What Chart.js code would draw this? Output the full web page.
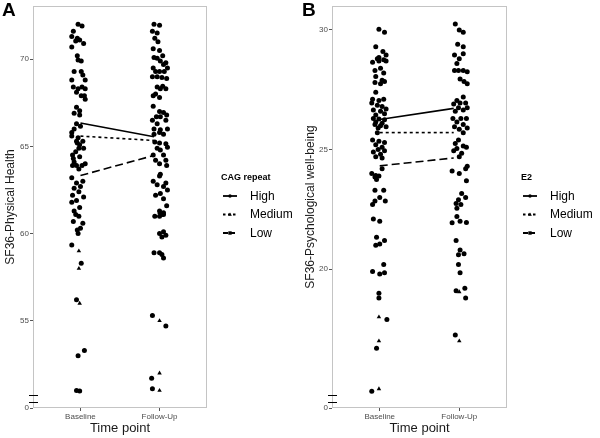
<!DOCTYPE html>
<html>
<head>
<meta charset="utf-8">
<script src="https://cdn.jsdelivr.net/npm/chart.js@4.4.1/dist/chart.umd.min.js"></script>
<style>
  html, body { margin: 0; padding: 0; background: #fff; }
  #wrap { position: relative; width: 600px; height: 438px; }
  canvas { position: absolute; top: 0; }
</style>
</head>
<body>
<div id="wrap">
  <canvas id="chartA" width="300" height="438" style="left:0"></canvas>
  <canvas id="chartB" width="300" height="438" style="left:300px"></canvas>
</div>
<script>
// ── DATA ─────────────────────────────
const timePoints = ["Baseline", "Follow-Up"];
const groupNames = ["High", "Medium", "Low"];

// panel A: [jitter, value]
const aBaseDots = [
  [-0.03,72.0],[0.02,71.9],[-0.09,71.6],[-0.11,71.3],[-0.06,71.05],[-0.01,71.1],[-0.04,71.2],[0.04,70.9],
  [-0.11,70.7],[-0.04,70.2],[-0.03,69.95],[0.01,69.9],[-0.08,69.3],[0.01,69.3],[0.03,69.1],[0.06,68.8],
  [-0.11,68.8],[-0.09,68.4],[-0.03,68.3],[0.02,68.4],[0.06,68.3],[-0.05,68.1],[0.01,67.9],[0.05,67.9],
  [0.06,67.7],[-0.05,67.25],[-0.01,67.05],[-0.08,66.9],[-0.01,66.8],[-0.05,66.3],[0.0,66.15],[-0.08,66.0],
  [-0.11,65.8],[-0.11,65.6],[-0.03,65.5],[-0.05,65.3],[0.03,65.3],[-0.04,65.2],[-0.01,65.1],[-0.02,64.9],
  [0.04,64.9],[-0.06,64.7],[-0.10,64.5],[-0.01,64.4],[-0.09,64.3],[-0.08,64.1],[0.06,64.0],[-0.05,63.9],
  [-0.10,63.9],[0.02,63.9],[-0.02,63.7],[-0.11,63.2],[-0.05,62.9],[0.03,63.0],[0.0,62.7],[-0.08,62.6],
  [-0.02,62.4],[-0.10,62.2],[0.04,62.1],[-0.11,61.8],[-0.05,61.9],[-0.01,61.5],[-0.08,61.3],[-0.06,61.1],
  [-0.02,61.0],[-0.09,60.7],[0.03,60.6],[-0.04,60.2],[0.0,60.3],[-0.03,60.0],[-0.11,59.35],[0.01,58.3],
  [-0.05,56.2],[-0.03,53.0],[0.05,53.3],[-0.05,51.0],[-0.01,50.98]
];
const aBaseTri = [[-0.02,59.0],[-0.02,58.0],[-0.01,56.0]];
const aFollowDots = [
  [-0.07,72.0],[0.0,71.95],[-0.09,71.6],[-0.03,71.5],[-0.06,71.2],[-0.02,71.0],[-0.08,70.6],[0.0,70.5],
  [-0.07,70.1],[-0.03,70.05],[0.04,70.2],[0.01,69.9],[0.08,69.8],[0.05,69.7],[-0.08,69.5],[0.10,69.5],
  [-0.05,69.3],[0.0,69.3],[0.06,69.3],[-0.09,69.0],[-0.03,69.0],[0.03,68.95],[0.09,68.9],[-0.03,68.4],
  [0.04,68.45],[0.01,68.3],[0.08,68.3],[-0.05,68.0],[-0.08,67.9],[0.0,67.8],[-0.08,67.3],[0.0,67.0],
  [0.05,66.95],[0.09,66.8],[0.01,66.7],[-0.04,66.7],[-0.09,66.5],[0.08,66.5],[-0.03,66.3],[-0.07,66.0],
  [0.01,65.95],[0.10,66.0],[0.0,65.8],[-0.07,65.7],[0.05,65.7],[-0.06,65.25],[0.0,65.2],[0.08,65.15],
  [-0.03,64.9],[0.10,64.95],[0.01,64.8],[-0.08,64.5],[0.05,64.5],[-0.05,64.2],[0.08,64.2],[0.0,64.0],
  [0.09,63.9],[0.01,63.4],[0.0,63.3],[-0.08,63.0],[0.08,62.9],[-0.03,62.8],[0.05,62.7],[0.10,62.5],
  [0.01,62.3],[-0.05,62.2],[0.05,62.0],[0.09,61.6],[0.0,61.3],[0.05,61.2],[0.0,61.0],[0.05,61.1],
  [0.03,61.1],[-0.06,61.0],[0.0,60.0],[0.05,60.1],[0.08,59.9],[0.03,59.8],[-0.07,58.9],[0.0,58.9],
  [0.03,58.8],[0.05,58.6],[-0.09,55.3],[0.08,54.7],[-0.10,51.7],[-0.09,51.1]
];
const aFollowTri = [[0.0,61.2],[0.0,55.0],[0.0,52.0],[0.0,51.0]];
const aLines = { High: [66.34, 65.55], Medium: [65.59, 65.34], Low: [63.33, 64.48] };
const aTicks = [50, 55, 60, 65, 70];
const aTickLabels = ["0", "55", "60", "65", "70"];

// panel B: [jitter, value]
const bBaseDots = [
  [-0.01,30.03],[0.06,29.9],[-0.05,29.3],[0.04,29.1],[0.08,28.95],[-0.01,28.85],[-0.03,28.8],[0.05,28.75],
  [-0.09,28.65],[-0.01,28.7],[0.08,28.7],[-0.06,28.3],[0.01,28.4],[0.05,28.2],[-0.05,28.05],[0.03,27.9],
  [0.06,27.85],[-0.06,27.8],[0.01,27.75],[-0.05,27.4],[-0.09,27.1],[-0.01,27.05],[0.05,27.1],[-0.10,26.95],
  [-0.03,26.85],[0.03,26.8],[0.08,26.7],[-0.08,26.65],[0.01,26.6],[0.06,26.5],[-0.05,26.45],[-0.08,26.3],
  [-0.01,26.28],[0.06,26.25],[-0.05,26.15],[0.03,26.1],[-0.06,26.05],[0.01,26.0],[0.08,25.95],[-0.02,25.9],
  [-0.03,25.7],[-0.09,25.4],[-0.01,25.35],[0.06,25.3],[-0.05,25.2],[0.03,25.1],[-0.02,25.0],[0.06,24.95],
  [-0.08,24.9],[0.01,24.8],[-0.05,24.7],[0.03,24.65],[0.03,24.2],[-0.10,24.0],[-0.05,23.92],[-0.06,23.85],
  [-0.01,23.9],[-0.04,23.75],[-0.06,23.3],[0.05,23.3],[0.0,23.0],[-0.06,22.85],[0.07,22.85],[-0.09,22.7],
  [-0.08,22.1],[0.0,22.0],[-0.04,21.34],[0.06,21.2],[-0.05,21.0],[0.0,21.05],[0.05,20.2],[0.0,19.8],
  [0.06,19.85],[-0.09,19.9],[-0.01,19.0],[-0.01,18.8],[0.09,17.9],[-0.04,16.7],[-0.10,14.9]
];
const bBaseTri = [[-0.01,18.0],[-0.01,17.0],[-0.01,15.0]];
const bFollowDots = [
  [-0.05,30.25],[0.0,30.0],[0.05,29.9],[-0.02,29.4],[0.05,29.3],[-0.06,28.95],[0.05,29.0],[0.0,28.8],
  [-0.03,28.6],[-0.06,28.3],[-0.01,28.3],[0.05,28.3],[0.10,28.25],[0.01,27.95],[0.06,27.85],[0.10,27.75],
  [0.05,27.2],[-0.03,27.05],[0.01,26.95],[-0.07,26.9],[0.08,26.95],[-0.01,26.75],[0.10,26.75],[0.05,26.65],
  [-0.05,26.6],[-0.08,26.3],[0.02,26.3],[0.09,26.3],[-0.03,26.15],[0.05,26.05],[-0.06,25.95],[0.0,25.85],
  [0.10,25.9],[0.05,25.7],[-0.01,25.4],[-0.05,25.25],[0.05,25.15],[-0.03,25.05],[0.09,25.1],[-0.07,24.95],
  [0.03,24.85],[0.0,24.7],[0.10,24.3],[-0.09,24.1],[0.0,24.0],[0.08,24.2],[0.09,23.7],[0.03,23.16],
  [0.08,23.0],[-0.01,22.9],[-0.04,22.75],[0.02,22.7],[-0.03,22.55],[-0.03,22.2],[-0.09,21.94],[0.01,22.0],
  [0.09,21.95],[-0.04,21.2],[0.01,20.8],[-0.01,20.6],[0.06,20.65],[-0.01,20.2],[0.01,19.85],[-0.04,19.1],
  [0.07,19.2],[0.08,18.8],[-0.05,17.25]
];
const bFollowTri = [[0.0,19.05],[0.0,17.0]];
const bLines = { High: [26.26, 26.72], Medium: [25.71, 25.71], Low: [24.32, 24.65] };
const bTicks = [14.2, 20, 25, 30];
const bTickLabels = ["0", "20", "25", "30"];

// ── HELPERS ─────────────────────────────
const lineDash = { High: [], Medium: [3, 3], Low: [8, 4] };
const lineMarker = { High: "circle", Medium: "triangle", Low: "rect" };
const lineEnds = [1, 1.93];

function toPoints(base, follow) {
  return base.map(p => ({ x: 1 + p[0], y: p[1] }))
    .concat(follow.map(p => ({ x: 2 + p[0], y: p[1] })));
}

function drawMarker(ctx, type, x, y, r) {
  ctx.beginPath();
  if (type === "circle") {
    ctx.arc(x, y, r, 0, Math.PI * 2);
  } else if (type === "triangle") {
    ctx.moveTo(x, y - r * 1.2);
    ctx.lineTo(x + r * 1.1, y + r * 0.8);
    ctx.lineTo(x - r * 1.1, y + r * 0.8);
    ctx.closePath();
  } else {
    ctx.rect(x - r, y - r, r * 2, r * 2);
  }
  ctx.fill();
}

// frame, panel letter, axis break and legend
const decoPlugin = {
  id: "deco",
  afterDraw(chart, args, opts) {
    const ctx = chart.ctx;
    const a = chart.chartArea;
    ctx.save();
    ctx.strokeStyle = "#c4c4c4";
    ctx.lineWidth = 1;
    ctx.strokeRect(a.left + 0.5, a.top + 0.5, a.right - a.left - 1, a.bottom - a.top - 1);

    // panel letter
    ctx.fillStyle = "#000";
    ctx.font = "bold 19px 'Liberation Sans', Arial, sans-serif";
    ctx.textBaseline = "top";
    ctx.textAlign = "left";
    ctx.fillText(opts.letter, 2, 1);

    // axis break marks
    ctx.strokeStyle = "#000";
    ctx.lineWidth = 1;
    [a.bottom - 12.5, a.bottom - 5.5].forEach(y => {
      ctx.beginPath();
      ctx.moveTo(a.left - 4, y);
      ctx.lineTo(a.left + 5, y);
      ctx.stroke();
    });

    // legend
    const lx = a.right + 14;
    ctx.font = "bold 9px 'Liberation Sans', Arial, sans-serif";
    ctx.textBaseline = "middle";
    ctx.fillText(opts.legendTitle, lx, 178);
    ctx.font = "12px 'Liberation Sans', Arial, sans-serif";
    groupNames.forEach((g, i) => {
      const y = 196 + i * 18.5;
      ctx.setLineDash(g === "Medium" ? [2.5, 2.5] : (g === "Low" ? [5, 2] : []));
      ctx.lineWidth = 1.8;
      ctx.beginPath();
      ctx.moveTo(lx + 2, y);
      ctx.lineTo(lx + 16, y);
      ctx.stroke();
      ctx.setLineDash([]);
      drawMarker(ctx, lineMarker[g], lx + 9, y, 1.7);
      ctx.fillText(g, lx + 29, y + 0.5);
    });
    ctx.restore();
  }
};

function makeChart(id, opts) {
  const datasets = [
    {
      type: "scatter",
      data: toPoints(opts.baseDots, opts.followDots),
      pointStyle: "circle",
      pointRadius: 2.5,
      backgroundColor: "#000",
      borderWidth: 0
    },
    {
      type: "scatter",
      data: toPoints(opts.baseTri, opts.followTri),
      pointStyle: "triangle",
      pointRadius: 2.6,
      backgroundColor: "#000",
      borderWidth: 0
    }
  ];
  groupNames.forEach(g => {
    datasets.push({
      type: "line",
      data: lineEnds.map((x, i) => ({ x: x, y: opts.lines[g][i] })),
      borderColor: "#000",
      borderWidth: 1.6,
      borderDash: lineDash[g],
      pointRadius: 0,
      fill: false
    });
  });

  return new Chart(document.getElementById(id).getContext("2d"), {
    data: { datasets: datasets },
    options: {
      responsive: false,
      animation: false,
      devicePixelRatio: 1,
      layout: { padding: { top: 6, right: 93, left: 0, bottom: 0 } },
      plugins: {
        legend: { display: false },
        tooltip: { enabled: false },
        deco: { letter: opts.letter, legendTitle: opts.legendTitle }
      },
      scales: {
        x: {
          type: "linear",
          min: 0.4,
          max: 2.6,
          afterBuildTicks: s => { s.ticks = [{ value: 1 }, { value: 2 }]; },
          afterFit: s => { s.height = 30; },
          grid: { drawOnChartArea: false, tickLength: 3, color: "#555" },
          border: { display: false },
          ticks: {
            padding: 1,
            color: "#4d4d4d",
            font: { size: 8, family: "'Liberation Sans', Arial, sans-serif" },
            maxRotation: 0,
            callback: v => timePoints[v - 1]
          },
          title: {
            display: true,
            text: "Time point",
            color: "#1a1a1a",
            padding: { top: 0, bottom: 2 },
            font: { size: 13, family: "'Liberation Sans', Arial, sans-serif" }
          }
        },
        y: {
          type: "linear",
          min: opts.ticks[0],
          max: opts.yMax,
          afterBuildTicks: s => { s.ticks = opts.ticks.map(v => ({ value: v })); },
          afterFit: s => { s.width = opts.axisWidth; },
          grid: { drawOnChartArea: false, tickLength: 3, color: "#555" },
          border: { display: false },
          ticks: {
            padding: 1,
            color: "#4d4d4d",
            font: { size: 8, family: "'Liberation Sans', Arial, sans-serif" },
            callback: (v, i) => opts.tickLabels[i]
          },
          title: {
            display: true,
            text: opts.yTitle,
            color: "#1a1a1a",
            padding: { top: 3, bottom: 0 },
            font: { size: 12, family: "'Liberation Sans', Arial, sans-serif" }
          }
        }
      }
    },
    plugins: [decoPlugin]
  });
}

makeChart("chartA", {
  letter: "A", legendTitle: "CAG repeat", yTitle: "SF36-Physical Health",
  baseDots: aBaseDots, baseTri: aBaseTri, followDots: aFollowDots, followTri: aFollowTri,
  lines: aLines, ticks: aTicks, tickLabels: aTickLabels, yMax: 73.05, axisWidth: 33
});
makeChart("chartB", {
  letter: "B", legendTitle: "E2", yTitle: "SF36-Psychological well-being",
  baseDots: bBaseDots, baseTri: bBaseTri, followDots: bFollowDots, followTri: bFollowTri,
  lines: bLines, ticks: bTicks, tickLabels: bTickLabels, yMax: 31.0, axisWidth: 32
});
</script>
</body>
</html>
